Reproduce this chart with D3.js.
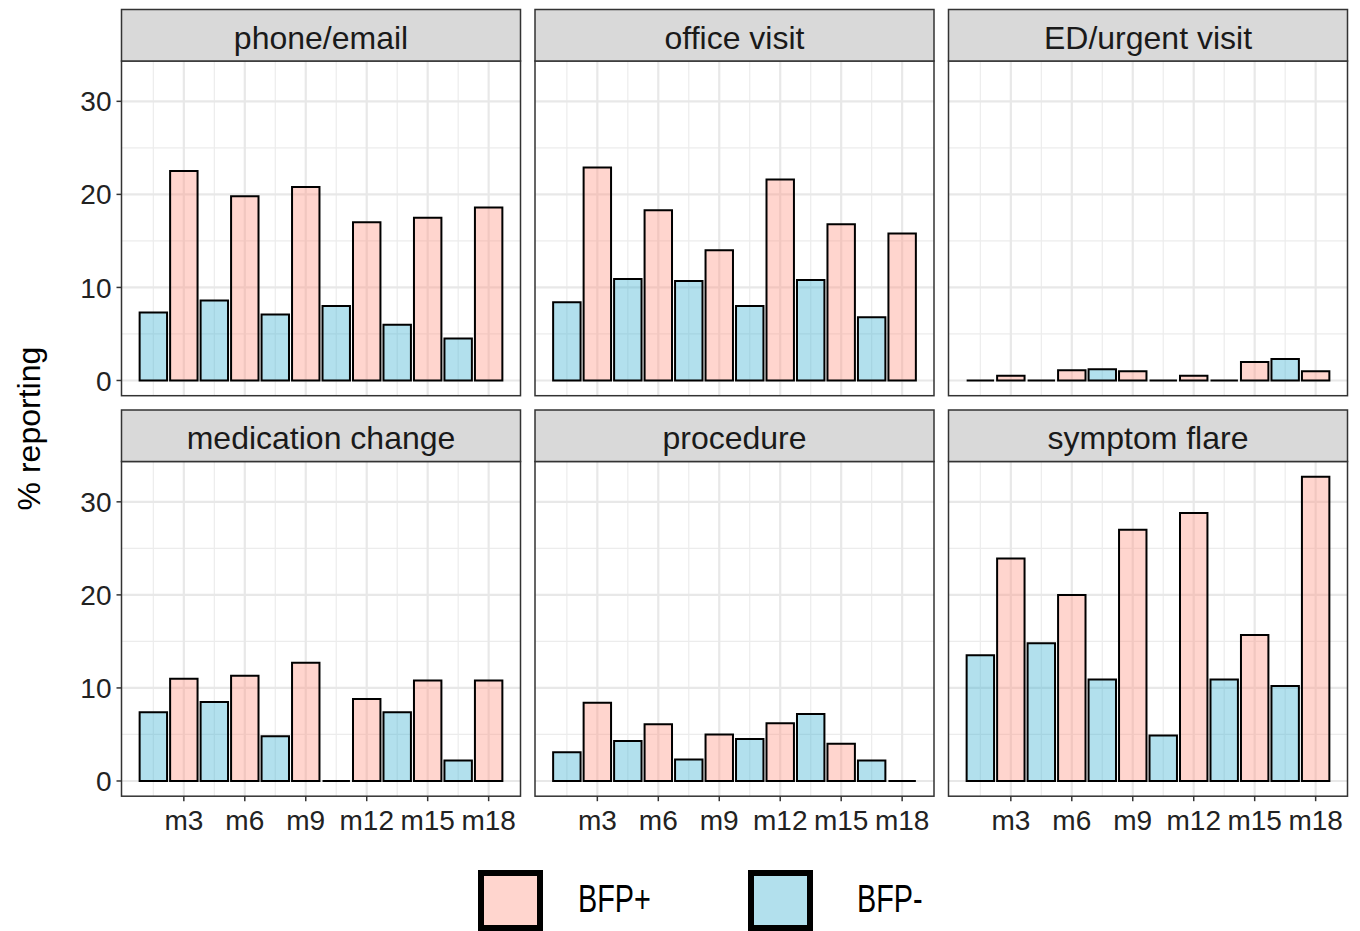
<!DOCTYPE html>
<html>
<head>
<meta charset="utf-8">
<script src="https://cdn.jsdelivr.net/npm/d3@7"></script>
<style>
  html, body { margin: 0; padding: 0; background: #fff; }
  svg { display: block; }
  text { font-family: "Liberation Sans", Arial, Helvetica, sans-serif; }
</style>
</head>
<body>
<svg id="chart" width="1360" height="931"></svg>
<script>
// ---------------- data ----------------
const facets = ["phone/email", "office visit", "ED/urgent visit",
                "medication change", "procedure", "symptom flare"];
const months = ["m3", "m6", "m9", "m12", "m15", "m18"];
const monthValues = [3, 6, 9, 12, 15, 18];
const groups = ["BFP+", "BFP-"];
// % reporting, BFP+ group, one row per facet, one value per month
const bfpPlus = [
  [22.5, 19.8, 20.8, 17.0, 17.5, 18.6],
  [22.9, 18.3, 14.0, 21.6, 16.8, 15.8],
  [0.5, 1.1, 1.0, 0.5, 2.0, 1.0],
  [11.0, 11.3, 12.7, 8.8, 10.8, 10.8],
  [8.4, 6.1, 5.0, 6.2, 4.0, 0.0],
  [23.9, 20.0, 27.0, 28.8, 15.7, 32.7]
];
// % reporting, BFP- group
const bfpMinus = [
  [7.3, 8.6, 7.1, 8.0, 6.0, 4.5],
  [8.4, 10.9, 10.7, 8.0, 10.8, 6.8],
  [0.0, 0.0, 1.2, 0.0, 0.0, 2.3],
  [7.4, 8.5, 4.8, 0.0, 7.4, 2.2],
  [3.1, 4.3, 2.3, 4.5, 7.2, 2.2],
  [13.5, 14.8, 10.9, 4.9, 10.9, 10.2]
];
const yTicks = [0, 10, 20, 30];
const yMinorTicks = [5, 15, 25];
const yTitle = "% reporting";

// ---------------- layout ----------------
const svg = d3.select("#chart");
const colX = [121.5, 535, 948.5];
const panelW = 399;
const rowStripTop = [9.5, 410];
const stripH = 51.5;
const panelH = 334.7;
const offset = 1.5;     // BFP- bars sit 1.5 units left of their month
const barW = 0.9 * 1.5; // ggplot default width 0.9 * resolution

const fillCol = { "BFP+": "rgb(255,150,132)", "BFP-": "rgb(62,177,210)" };
const fillOp = 0.4;

// x scale domain from bar extents with 5% expansion
const xMinData = d3.min(monthValues) - offset - barW / 2;
const xMaxData = d3.max(monthValues) + barW / 2;
const xPad = 0.05 * (xMaxData - xMinData);
const allVals = bfpPlus.flat().concat(bfpMinus.flat());
const yMaxData = d3.max(allVals);
const yPad = 0.05 * yMaxData;

const xMinor = monthValues.map(m => m - offset);

facets.forEach((name, fi) => {
  const col = fi % 3, row = Math.floor(fi / 3);
  const x0 = colX[col];
  const sTop = rowStripTop[row];
  const pTop = sTop + stripH;
  const x = d3.scaleLinear().domain([xMinData - xPad, xMaxData + xPad]).range([x0, x0 + panelW]);
  const y = d3.scaleLinear().domain([-yPad, yMaxData + yPad]).range([pTop + panelH, pTop]);

  const g = svg.append("g");
  g.append("rect").attr("x", x0).attr("y", pTop).attr("width", panelW).attr("height", panelH)
    .attr("fill", "#fff");
  // minor grid
  g.selectAll(".ym").data(yMinorTicks).join("line")
    .attr("x1", x0).attr("x2", x0 + panelW).attr("y1", d => y(d)).attr("y2", d => y(d))
    .attr("stroke", "#ECECEC").attr("stroke-width", 1.2);
  g.selectAll(".xm").data(xMinor).join("line")
    .attr("x1", d => x(d)).attr("x2", d => x(d)).attr("y1", pTop).attr("y2", pTop + panelH)
    .attr("stroke", "#ECECEC").attr("stroke-width", 1.2);
  // major grid
  g.selectAll(".yM").data(yTicks).join("line")
    .attr("x1", x0).attr("x2", x0 + panelW).attr("y1", d => y(d)).attr("y2", d => y(d))
    .attr("stroke", "#E8E8E8").attr("stroke-width", 2.2);
  g.selectAll(".xM").data(monthValues).join("line")
    .attr("x1", d => x(d)).attr("x2", d => x(d)).attr("y1", pTop).attr("y2", pTop + panelH)
    .attr("stroke", "#E8E8E8").attr("stroke-width", 2.2);

  // bars
  const bars = [];
  monthValues.forEach((m, i) => {
    bars.push({ grp: "BFP-", xc: m - offset, v: bfpMinus[fi][i] });
    bars.push({ grp: "BFP+", xc: m, v: bfpPlus[fi][i] });
  });
  g.selectAll(".bar").data(bars).join("path")
    .attr("d", d => {
      const xl = x(d.xc - barW / 2), xr = x(d.xc + barW / 2);
      const yb = y(0), yt = y(d.v);
      return `M${xl},${yb}L${xl},${yt}L${xr},${yt}L${xr},${yb}Z`;
    })
    .attr("fill", d => fillCol[d.grp]).attr("fill-opacity", fillOp)
    .attr("stroke", "#000").attr("stroke-width", 2).attr("stroke-linejoin", "miter");

  // panel border
  g.append("rect").attr("x", x0).attr("y", pTop).attr("width", panelW).attr("height", panelH)
    .attr("fill", "none").attr("stroke", "#333").attr("stroke-width", 1.5);
  // strip
  g.append("rect").attr("x", x0).attr("y", sTop).attr("width", panelW).attr("height", stripH)
    .attr("fill", "#D9D9D9").attr("stroke", "#333").attr("stroke-width", 1.5);
  g.append("text").attr("x", x0 + panelW / 2).attr("y", sTop + stripH / 2 + 2.5)
    .attr("text-anchor", "middle").attr("dominant-baseline", "central")
    .attr("font-size", 32).attr("fill", "#1A1A1A").text(name);

  // y axis (left column only)
  if (col === 0) {
    const ya = g.append("g");
    ya.selectAll("line").data(yTicks).join("line")
      .attr("x1", x0 - 5).attr("x2", x0).attr("y1", d => y(d)).attr("y2", d => y(d))
      .attr("stroke", "#333").attr("stroke-width", 1.5);
    ya.selectAll("text").data(yTicks).join("text")
      .attr("x", x0 - 10).attr("y", d => y(d)).attr("dy", "0.36em")
      .attr("text-anchor", "end").attr("font-size", 28).attr("fill", "#222")
      .text(d => d);
  }
  // x axis (bottom row only)
  if (row === 1) {
    const xa = g.append("g");
    const yb = pTop + panelH;
    xa.selectAll("line").data(monthValues).join("line")
      .attr("x1", d => x(d)).attr("x2", d => x(d)).attr("y1", yb).attr("y2", yb + 5)
      .attr("stroke", "#333").attr("stroke-width", 1.5);
    xa.selectAll("text").data(months).join("text")
      .attr("x", (d, i) => x(monthValues[i])).attr("y", yb + 34)
      .attr("text-anchor", "middle").attr("font-size", 28).attr("fill", "#222")
      .text(d => d);
  }
});

// y axis title
svg.append("text")
  .attr("transform", `translate(29,${(rowStripTop[0] + stripH + rowStripTop[1] + stripH + panelH) / 2}) rotate(-90)`)
  .attr("text-anchor", "middle").attr("dominant-baseline", "central")
  .attr("font-size", 32).attr("fill", "#000").text(yTitle);

// legend
const legendKeyX = [481, 751];
const legendLabelX = [578, 857];
groups.forEach((gname, i) => {
  svg.append("rect").attr("x", legendKeyX[i]).attr("y", 873).attr("width", 59).attr("height", 55)
    .attr("fill", fillCol[gname]).attr("fill-opacity", fillOp)
    .attr("stroke", "#000").attr("stroke-width", 6);
  svg.append("text")
    .attr("transform", `translate(${legendLabelX[i]},912) scale(0.9,1.22)`)
    .attr("font-size", 32).attr("fill", "#000").text(gname);
});
</script>
</body>
</html>
